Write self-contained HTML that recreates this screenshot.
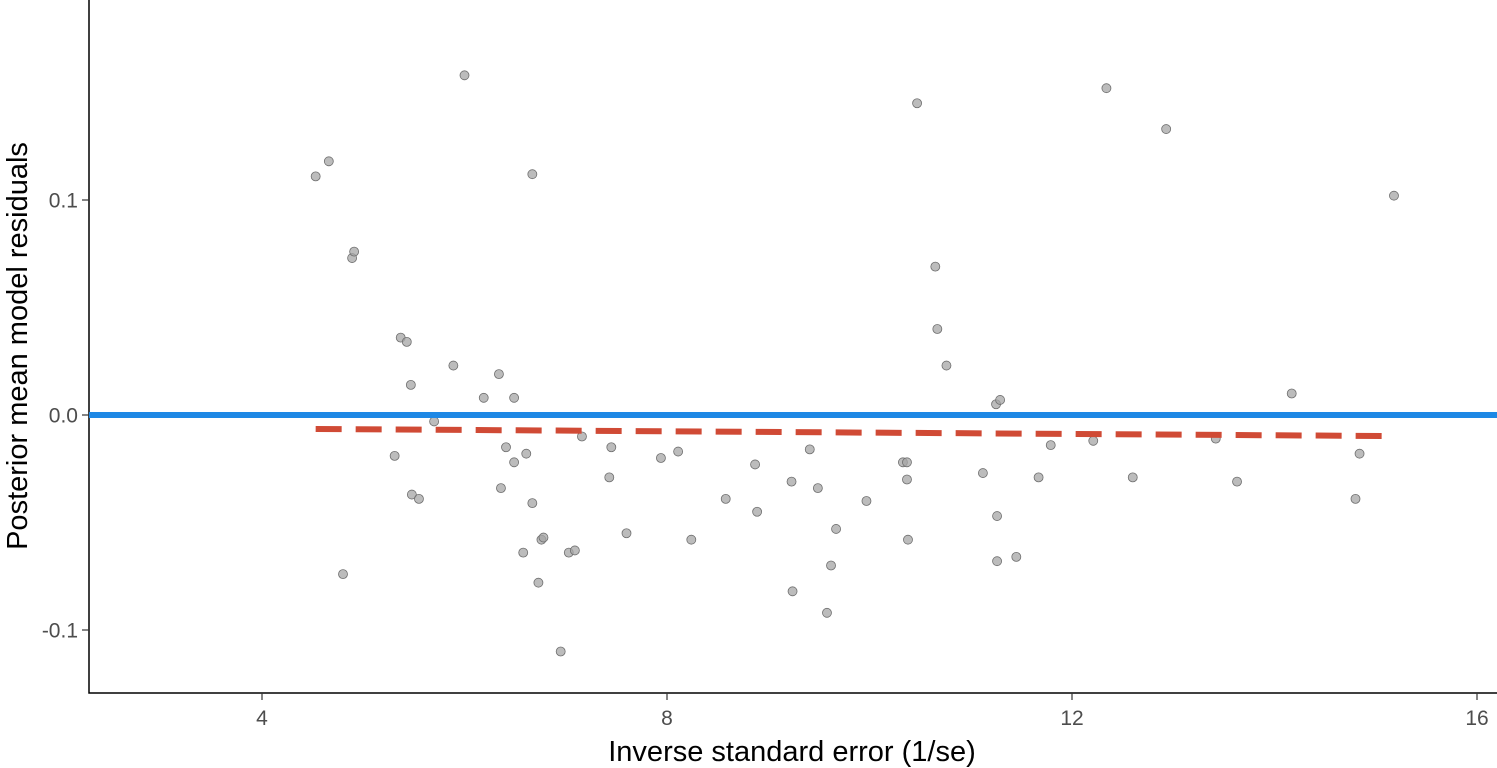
<!DOCTYPE html>
<html><head><meta charset="utf-8"><style>
html,body{margin:0;padding:0;background:#fff;}
svg{display:block;font-family:"Liberation Sans",sans-serif;}
</style></head><body>
<svg id="chart" width="1497" height="768"></svg>
<script>
const xs=[4.53,4.66,4.80,4.89,4.91,5.31,5.37,5.43,5.47,5.48,5.55,5.70,5.89,6.00,6.19,6.34,6.36,6.41,6.49,6.49,6.58,6.61,6.67,6.67,6.73,6.76,6.78,6.95,7.03,7.09,7.16,7.43,7.45,7.60,7.94,8.11,8.24,8.58,8.87,8.89,9.23,9.24,9.41,9.49,9.58,9.62,9.67,9.97,10.33,10.37,10.37,10.38,10.47,10.65,10.67,10.76,11.12,11.25,11.26,11.26,11.29,11.45,11.67,11.79,12.21,12.34,12.60,12.93,13.42,13.63,14.17,14.80,14.84,15.18];
const ys=[0.111,0.118,-0.074,0.073,0.076,-0.019,0.036,0.034,0.014,-0.037,-0.039,-0.003,0.023,0.158,0.008,0.019,-0.034,-0.015,0.008,-0.022,-0.064,-0.018,0.112,-0.041,-0.078,-0.058,-0.057,-0.110,-0.064,-0.063,-0.010,-0.029,-0.015,-0.055,-0.020,-0.017,-0.058,-0.039,-0.023,-0.045,-0.031,-0.082,-0.016,-0.034,-0.092,-0.070,-0.053,-0.040,-0.022,-0.022,-0.030,-0.058,0.145,0.069,0.040,0.023,-0.027,0.005,-0.068,-0.047,0.007,-0.066,-0.029,-0.014,-0.012,0.152,-0.029,0.133,-0.011,-0.031,0.010,-0.039,-0.018,0.102];
const xTicks=[4,8,12,16];
const yTicks=[-0.1,0.0,0.1];
const yTickLabels=["-0.1","0.0","0.1"];
const fitX=[4.53,15.18];
const fitY=[-0.0065,-0.0098];

const NS="http://www.w3.org/2000/svg";
const svg=document.getElementById('chart');
const X=v=>262+(v-4)*101.25;
const Y=v=>415-v*2150;
function mk(t,a,p){const e=document.createElementNS(NS,t);for(const k in a)e.setAttribute(k,a[k]);(p||svg).appendChild(e);return e;}

const ax=mk('path',{d:'M89,0 V693 H1497',fill:'none',stroke:'#000','stroke-width':1.5});



xTicks.forEach(t=>{
  const l=mk('line',{x1:X(t),x2:X(t),y1:693,y2:700,stroke:'#333','stroke-width':1.2});
  
  
  const tx=mk('text',{x:X(t),y:725,'text-anchor':'middle','font-size':21,fill:'#4d4d4d'});
  tx.textContent=t;
  
  
});
yTicks.forEach((t,i)=>{
  const l=mk('line',{x1:82,x2:89,y1:Y(t),y2:Y(t),stroke:'#333','stroke-width':1.2});
  
  
  const tx=mk('text',{x:78,y:Y(t)+7.5,'text-anchor':'end','font-size':21,fill:'#4d4d4d'});
  tx.textContent=yTickLabels[i];
  
  
});

xs.forEach((x,i)=>{
  const c=mk('circle',{cx:X(x),cy:Y(ys[i]),r:4.5,fill:'#a6a6a6','fill-opacity':0.75,stroke:'#6e6e6e','stroke-width':0.8});
  
  
});

const zl=mk('line',{x1:89,x2:1497,y1:Y(0),y2:Y(0),stroke:'#1e88e5','stroke-width':6});



const fl=mk('line',{x1:X(fitX[0]),x2:X(fitX[1]),y1:Y(fitY[0]),y2:Y(fitY[1]),stroke:'#d04a35','stroke-width':6,'stroke-dasharray':'26,14'});



const xt=mk('text',{x:792,y:761,'text-anchor':'middle','font-size':29,fill:'#000'});
xt.textContent='Inverse standard error (1/se)';


const yt=mk('text',{x:0,y:0,'text-anchor':'middle','font-size':29,fill:'#000',transform:'translate(27,346) rotate(-90)'});
yt.textContent='Posterior mean model residuals';


</script>
</body></html>
